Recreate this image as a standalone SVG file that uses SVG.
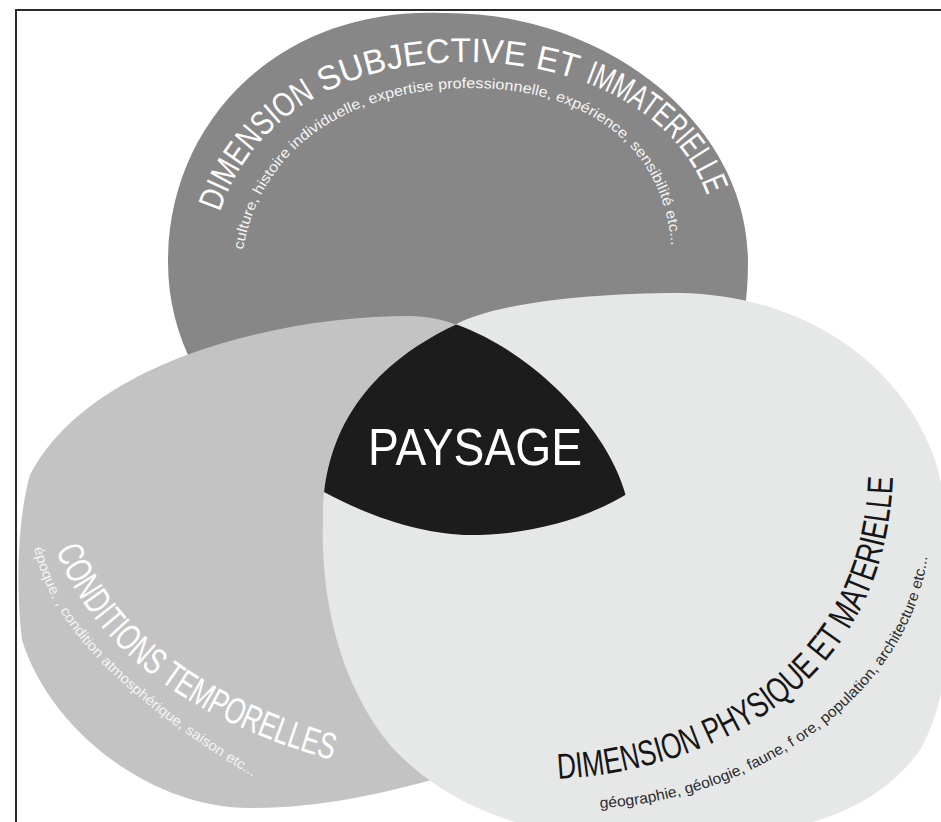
<svg xmlns="http://www.w3.org/2000/svg" width="941" height="822" viewBox="0 0 941 822">
<style>
.t{font-family:"Liberation Sans",Arial,Helvetica,sans-serif;}
.w{fill:#ffffff}
.ws{fill:#f4f4f4}
.k{fill:#151515}
.ks{fill:#2c2c2c}
.guide{fill:none;stroke:none}
</style>
<defs>
<path id="blobS" d="M 440,13 C 600,10 748,120 748,262 C 748,450 610,535 470,535 C 370,535 168,440 168,262 C 168,120 280,8 440,13 Z"/>
<path id="blobT" d="M 410,316 C 500,316 625,430 630,520 C 635,640 560,745 460,772 C 380,795 320,808 250,808 C 150,808 50,730 22,640 C 16,590 17,520 30,475 C 90,360 280,316 410,316 Z"/>
<path id="blobP" d="M 455,325 C 490,305 580,293 680,293 C 800,295 900,360 935,460 C 960,540 960,680 920,750 C 870,820 780,840 650,840 C 520,840 440,800 390,745 C 345,690 320,610 323,520 C 322,440 360,370 455,325 Z"/>
<clipPath id="clipT"><use href="#blobT"/></clipPath>
<clipPath id="clipP"><use href="#blobP"/></clipPath>
<path id="pS1" class="guide" d="M 220,212 C 250,120 340,62 465,62 C 590,62 690,120 712,212"/>
<path id="pS2" class="guide" d="M 243,250 C 262,140 360,88 470,88 C 585,88 668,145 672,256"/>
<path id="pC1" class="guide" d="M 56,550 C 90,640 180,720 340,762"/>
<path id="pC2" class="guide" d="M 34,548 C 50,620 110,690 255,778"/>
<path id="pP1" class="guide" d="M 558,779 C 720,770 890,680 893,470"/>
<path id="pP2" class="guide" d="M 600,808 C 760,800 915,690 928,550"/>
</defs>

<rect x="0" y="0" width="941" height="822" fill="#ffffff"/>
<path d="M 16,822 L 16,10 L 941,10" fill="none" stroke="#2a2a2a" stroke-width="2"/>

<g id="node-subjective">
<use href="#blobS" fill="#878787"/>
</g>
<g id="node-temporelles">
<use href="#blobT" fill="#c3c3c3"/>
</g>
<g id="node-physique">
<use href="#blobP" fill="#e6e7e7"/>
</g>
<g id="node-paysage">
<g clip-path="url(#clipP)"><use href="#blobS" fill="#1c1c1c" clip-path="url(#clipT)"/></g>
<text class="t w" x="368" y="465" font-size="52" textLength="214" lengthAdjust="spacingAndGlyphs">PAYSAGE</text>
</g>

<g id="labels-subjective">
<text class="t w" font-size="34"><textPath href="#pS1" startOffset="0" textLength="153" lengthAdjust="spacingAndGlyphs">DIMENSION</textPath></text>
<text class="t w" font-size="34"><textPath href="#pS1" startOffset="162" textLength="206" lengthAdjust="spacingAndGlyphs">SUBJECTIVE</textPath></text>
<text class="t w" font-size="34"><textPath href="#pS1" startOffset="378" textLength="42" lengthAdjust="spacingAndGlyphs">ET</textPath></text>
<text class="t w" font-size="34"><textPath href="#pS1" startOffset="430" textLength="172" lengthAdjust="spacingAndGlyphs">IMMATERIELLE</textPath></text>
<text class="t ws" font-size="14.5"><textPath href="#pS2" textLength="590" lengthAdjust="spacingAndGlyphs">culture, histoire individuelle, expertise professionnelle, expérience, sensibilité etc...</textPath></text>
</g>
<g id="labels-temporelles">
<text class="t w" font-size="37"><textPath href="#pC1" textLength="360" lengthAdjust="spacingAndGlyphs">CONDITIONS TEMPORELLES</textPath></text>
<text class="t ws" font-size="14"><textPath href="#pC2" textLength="325" lengthAdjust="spacingAndGlyphs">époque, , condition atmosphérique, saison etc...</textPath></text>
</g>
<g id="labels-physique">
<text class="t k" font-size="36"><textPath href="#pP1" textLength="500" lengthAdjust="spacingAndGlyphs">DIMENSION PHYSIQUE ET MATERIELLE</textPath></text>
<text class="t ks" font-size="15"><textPath href="#pP2" textLength="445" lengthAdjust="spacingAndGlyphs">géographie, géologie, faune, f ore, population, architecture etc...</textPath></text>
</g>
</svg>
